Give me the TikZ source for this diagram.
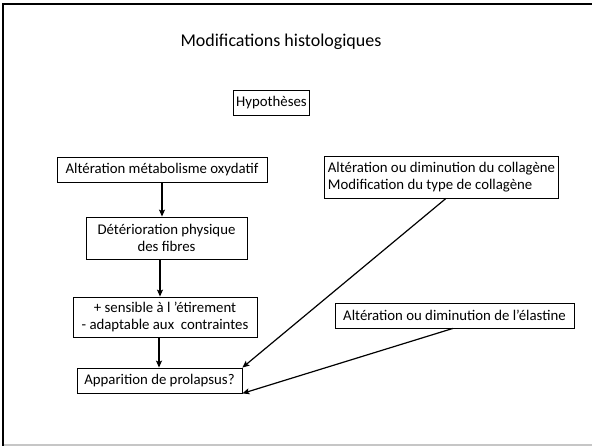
\documentclass[tikz,border=0pt]{standalone}
\usepackage{fontspec}
\setmainfont{Carlito}
\usetikzlibrary{arrows.meta,positioning}

\begin{document}
\begin{tikzpicture}[x=1pt,y=-1pt,
    box/.style={draw,line width=.8pt,inner xsep=3pt,inner ysep=3pt,font=\fontsize{14.8}{17}\selectfont},
    down/.style={line width=1.4pt,-{Stealth[length=7pt,width=6pt,inset=1.5pt]}},
    link/.style={line width=1.2pt,-{Stealth[length=7pt,width=6pt,inset=1.5pt]}}
  ]
  \useasboundingbox (0,0) rectangle (592,446);
  % frame of the slide
  \draw[line width=2.6pt] (3,446) -- (3,4) -- (592,4);
  \draw[gray!45,line width=1.2pt] (4,445) -- (592,445);
  \node[font=\fontsize{18}{21}\selectfont] (title) at (281,42) {Modifications histologiques};
  \node[box,minimum height=25pt] (hyp) at (271.5,102.5) {Hypothèses};
  % left chain
  \node[box,minimum width=210pt,minimum height=25pt] (oxy) at (162,169.5) {Altération métabolisme oxydatif};
  \node[box,align=center,minimum width=161pt,minimum height=42pt] (fib) at (166.5,238) {Détérioration physique\\des fibres};
  \node[box,align=center,minimum width=184pt,minimum height=40pt] (sens) at (165,317) {+ sensible à l ’étirement\\- adaptable aux\ \ contraintes};
  \node[box,minimum width=165pt,minimum height=25pt] (prol) at (159.5,380.5) {Apparition de prolapsus?};
  % right boxes
  \node[box,align=left,minimum width=233pt,minimum height=42pt] (coll) at (441.5,177) {Altération ou diminution du collagène\\Modification du type de collagène};
  \node[box,minimum width=239pt,minimum height=25pt] (elas) at (454.5,315.5) {Altération ou diminution de l’élastine};
  \draw[down] (oxy.south -| 162,0) -- (fib.north -| 162,0);
  \draw[down] (fib.south -| 160,0) -- (sens.north -| 160,0);
  \draw[down] (sens.south -| 159,0) -- (prol.north -| 159,0);
  \draw[link] (coll.south -| 446,0) -- (prol.north east);
  \draw[link] (elas.south -| 453,0) -- (prol.south east);
\end{tikzpicture}
\end{document}
